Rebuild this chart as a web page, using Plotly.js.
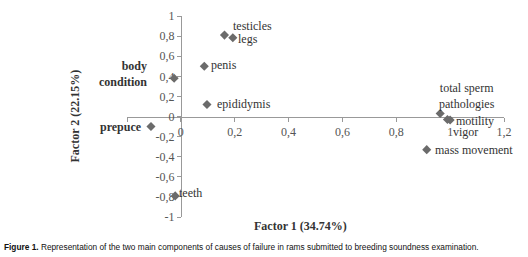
<!DOCTYPE html>
<html>
<head>
<meta charset="utf-8">
<script src="https://cdn.plot.ly/plotly-3.0.1.min.js"></script>
<style>html,body{margin:0;padding:0;background:#fff;}#chart{width:528px;height:257px;}</style>
</head>
<body>
<div id="chart"></div>
<script>
// Data
const variables = ['testicles','legs','penis','body condition','epididymis','prepuce','teeth','total sperm pathologies','motility','vigor','mass movement'];
const factor1 = [0.162, 0.193, 0.087, -0.025, 0.097, -0.111, -0.021, 0.963, 1.0, 0.99, 0.913];
const factor2 = [0.81, 0.784, 0.50, 0.38, 0.12, -0.10, -0.79, 0.03, -0.035, -0.03, -0.33];
const xTickVals = [-0.2, 0, 0.2, 0.4, 0.6, 0.8, 1, 1.2];
const xTickText = ['', '0', '0,2', '0,4', '0,6', '0,8', '1', '1,2'];
const yTickVals = [-1, -0.8, -0.6, -0.4, -0.2, 0, 0.2, 0.4, 0.6, 0.8, 1];
const yTickText = ['-1', '-0,8', '-0,6', '-0,4', '-0,2', '0', '0,2', '0,4', '0,6', '0,8', '1'];
const xTitle = 'Factor 1 (34.74%)';
const yTitle = 'Factor 2 (22.15%)';
const caption = '<b>Figure 1.</b> Representation of the two main components of causes of failure in rams submitted to breeding soundness examination.';

// Label placement / style (presentation only)
const labelPlacement = {
  'testicles': {text: 'testicles', anchor: 'left', dx: 8, dy: 9},
  'legs': {text: 'legs', anchor: 'left', dx: 4, dy: -1},
  'penis': {text: 'penis', anchor: 'left', dx: 6, dy: 1},
  'body condition': {text: '<b>body<br>condition</b>', anchor: 'right', dx: -26, dy: 4, align: 'right'},
  'epididymis': {text: 'epididymis', anchor: 'left', dx: 9, dy: 0},
  'prepuce': {text: '<b>prepuce</b>', anchor: 'right', dx: -8, dy: 0},
  'teeth': {text: 'teeth', anchor: 'left', dx: 3, dy: 3},
  'total sperm pathologies': {text: 'total sperm<br>pathologies', anchor: 'center', dx: 27, dy: 17},
  'motility': {text: 'motility', anchor: 'left', dx: 5, dy: -1},
  'vigor': {text: 'vigor', anchor: 'left', dx: 5, dy: -12},
  'mass movement': {text: 'mass movement', anchor: 'left', dx: 7, dy: 0}
};

const W = 528, H = 257;
const M = {l: 127, r: 24, t: 16, b: 40};
const pw = W - M.l - M.r, ph = H - M.t - M.b;
const serif = "'Liberation Serif', 'Times New Roman', serif";

const annotations = variables.map((v, i) => {
  const p = labelPlacement[v];
  return {
    x: factor1[i], y: factor2[i], xref: 'x', yref: 'y',
    text: p.text, showarrow: false,
    xanchor: p.anchor, yanchor: 'middle', align: p.align || 'center',
    xshift: p.dx, yshift: p.dy,
    font: {family: serif, size: 12, color: '#333333'},
    borderpad: 0
  };
});

annotations.push({
  xref: 'paper', yref: 'paper', x: (300 - M.l) / pw, y: -(226 - (H - M.b)) / ph,
  xanchor: 'center', yanchor: 'middle', showarrow: false,
  text: '<b>' + xTitle + '</b>', font: {family: serif, size: 12, color: '#333333'}
});
annotations.push({
  xref: 'paper', yref: 'paper', x: (74 - M.l) / pw, y: 0.5,
  xanchor: 'center', yanchor: 'middle', showarrow: false, textangle: -90,
  text: '<b>' + yTitle + '</b>', font: {family: serif, size: 12, color: '#333333'}
});
annotations.push({
  xref: 'paper', yref: 'paper', x: (2 - M.l) / pw, y: -(247 - (H - M.b)) / ph,
  xanchor: 'left', yanchor: 'middle', showarrow: false,
  text: caption, font: {family: "'Liberation Sans', Arial, sans-serif", size: 8.3, color: '#111111'}
});

const trace = {
  x: factor1, y: factor2, type: 'scatter', mode: 'markers',
  marker: {symbol: 'diamond', size: 7, color: '#6b6b6b'},
  hoverinfo: 'skip', cliponaxis: false
};

const layout = {
  width: W, height: H,
  margin: M,
  paper_bgcolor: '#ffffff', plot_bgcolor: '#ffffff',
  showlegend: false,
  xaxis: {
    range: [-0.2, 1.2], anchor: 'free', position: 0.5,
    showgrid: false, zeroline: false, showline: true, linecolor: '#999999', linewidth: 1,
    ticks: 'outside', ticklen: 4, tickcolor: '#999999',
    tickvals: xTickVals, ticktext: xTickText,
    tickfont: {family: serif, size: 12, color: '#555555'},
    layer: 'below traces', fixedrange: true
  },
  yaxis: {
    range: [-1, 1], anchor: 'free', position: 0.2 / 1.4,
    showgrid: false, zeroline: false, showline: true, linecolor: '#999999', linewidth: 1,
    ticks: 'outside', ticklen: 4, tickcolor: '#999999',
    tickvals: yTickVals, ticktext: yTickText,
    tickfont: {family: serif, size: 12, color: '#555555'},
    layer: 'below traces', fixedrange: true
  },
  annotations: annotations
};

Plotly.newPlot('chart', [trace], layout, {displayModeBar: false, staticPlot: true});
</script>
</body>
</html>
